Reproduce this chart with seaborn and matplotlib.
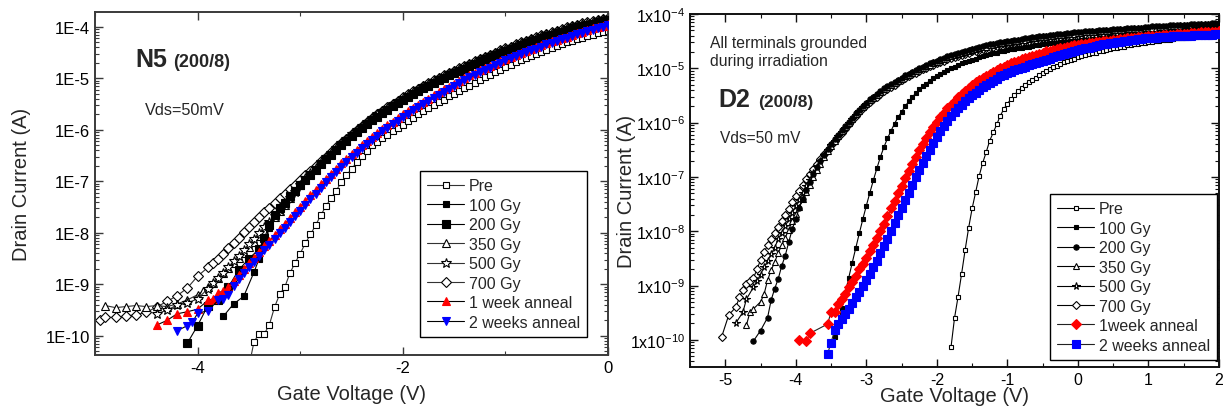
import numpy as np
import matplotlib
matplotlib.use("Agg")
import matplotlib.pyplot as plt
import seaborn as sns
from matplotlib.ticker import FixedLocator, LogLocator, MultipleLocator, FuncFormatter, NullFormatter

# ---------------- data: log10(drain current) on a 0.05 V gate sweep -------------
STEP = 0.05
LEGEND_L = ["Pre", "100 Gy", "200 Gy", "350 Gy", "500 Gy", "700 Gy", "1 week anneal", "2 weeks anneal"]
LEGEND_R = ["Pre", "100 Gy", "200 Gy", "350 Gy", "500 Gy", "700 Gy", "1week anneal", "2 weeks anneal"]

# ---- left panel: N5 (200/8) ----
L_PRE_V0 = -3.50
L_PRE = [-10.60, -10.11, -9.96, -9.96, -9.78, -9.44, -9.19, -9.05, -8.78, -8.58,
         -8.40, -8.20, -8.03, -7.85, -7.66, -7.48, -7.33, -7.18, -7.02, -6.88,
         -6.76, -6.63, -6.51, -6.40, -6.30, -6.23, -6.16, -6.09, -6.02, -5.96,
         -5.90, -5.83, -5.77, -5.70, -5.64, -5.58, -5.52, -5.46, -5.41, -5.35,
         -5.30, -5.24, -5.19, -5.14, -5.08, -5.03, -4.98, -4.93, -4.88, -4.83,
         -4.78, -4.74, -4.69, -4.65, -4.60, -4.56, -4.52, -4.48, -4.44, -4.41,
         -4.37, -4.34, -4.30, -4.27, -4.24, -4.21, -4.18, -4.15, -4.12, -4.10, -4.07]
L_100_V0 = -3.75
L_100 = [-9.62, None, -9.38, None, -9.23, None, -8.76, -8.50, -8.20, -7.90, -7.65,
         -7.50, -7.39, -7.27, -7.16, -7.05, -6.95, -6.85, -6.75, -6.65, -6.55,
         -6.46, -6.37, -6.28, -6.19, -6.10, -6.02, -5.94, -5.87, -5.79, -5.72,
         -5.65, -5.59, -5.52, -5.46, -5.40, -5.34, -5.28, -5.23, -5.17, -5.12,
         -5.07, -5.02, -4.97, -4.92, -4.88, -4.83, -4.79, -4.74, -4.70, -4.65,
         -4.61, -4.57, -4.53, -4.48, -4.44, -4.41, -4.37, -4.33, -4.30, -4.26,
         -4.23, -4.19, -4.16, -4.13, -4.10, -4.07, -4.04, -4.01, -3.99, -3.96,
         -3.94, -3.92, -3.89, -3.87, -3.85]
L_200_V0 = -4.10
L_200 = [-10.14, None, -9.80, None, -9.41, None, -9.31, None, -9.05, None,
         -8.72, None, -8.50, None, -8.31, -8.10, -7.85, -7.66,
         -7.52, -7.41, -7.29, -7.18, -7.07, -6.97, -6.87, -6.77, -6.67, -6.57,
         -6.48, -6.39, -6.30, -6.21, -6.12, -6.04, -5.96, -5.89, -5.81, -5.74,
         -5.67, -5.61, -5.54, -5.48, -5.42, -5.36, -5.30, -5.25, -5.19, -5.14,
         -5.09, -5.04, -4.99, -4.94, -4.90, -4.85, -4.81, -4.76, -4.72, -4.67,
         -4.63, -4.59, -4.55, -4.50, -4.46, -4.43, -4.39, -4.35, -4.32, -4.28,
         -4.25, -4.21, -4.18, -4.15, -4.12, -4.09, -4.06, -4.03, -4.01, -3.98,
         -3.96, -3.94, -3.91, -3.89, -3.87]
L_350_V0 = -4.90
L_350 = [-9.41, None, -9.45, None, -9.43, None, -9.41, None, -9.43, None,
         -9.41, None, -9.43, None, -9.38, None, -9.30, None,
         -9.20, -9.13, -9.05, -8.97, -8.88, -8.78, -8.68, -8.58, -8.48, -8.38,
         -8.28, -8.17, -8.06, -7.94, -7.82, -7.70, -7.58, -7.46, -7.33, -7.19,
         -7.06,
         -6.94, -6.84, -6.74, -6.64, -6.54, -6.45, -6.36, -6.27, -6.18, -6.09,
         -6.01, -5.93, -5.86, -5.78, -5.71, -5.64, -5.58, -5.51, -5.45, -5.39,
         -5.33, -5.27, -5.22, -5.16, -5.11, -5.06, -5.01, -4.96, -4.91, -4.87,
         -4.82, -4.78, -4.73, -4.69, -4.64, -4.60, -4.56, -4.52, -4.47, -4.43,
         -4.40, -4.36, -4.32, -4.29, -4.25, -4.22, -4.18, -4.15, -4.12, -4.09,
         -4.06, -4.03, -4.00, -3.98, -3.95, -3.93, -3.91, -3.88, -3.86, -3.84]
L_500_V0 = -4.40
L_500 = [-9.57, None, -9.50, None, -9.40, None, -9.36, None, -9.28, None,
         -9.08, -8.98, -8.88, -8.77, -8.66, -8.55, -8.44, -8.33, -8.22, -8.11,
         -8.00, -7.89, -7.78, -7.67, -7.56, -7.44, -7.32, -7.20, -7.07,
         -6.93, -6.83, -6.73, -6.63, -6.53, -6.44, -6.35, -6.26, -6.17, -6.08,
         -6.00, -5.92, -5.85, -5.77, -5.70, -5.63, -5.57, -5.50, -5.44, -5.38,
         -5.32, -5.26, -5.21, -5.15, -5.10, -5.05, -5.00, -4.95, -4.90, -4.86,
         -4.81, -4.77, -4.72, -4.68, -4.63, -4.59, -4.55, -4.51, -4.46, -4.42,
         -4.39, -4.35, -4.31, -4.28, -4.24, -4.21, -4.17, -4.14, -4.11, -4.08,
         -4.05, -4.02, -3.99, -3.97, -3.94, -3.92, -3.90, -3.87, -3.85, -3.83]
L_700_V0 = -4.95
L_700 = [-9.70, -9.64, None, -9.64, None, -9.61, None, -9.59, None, -9.54,
         None, -9.44, None, -9.33, None, -9.22, None, -9.07, None, -8.84,
         None, -8.67, -8.58, -8.50, -8.40, -8.30, -8.20, -8.10, -7.99, -7.89,
         -7.79, -7.70, -7.60, -7.51, -7.42, -7.33, -7.24, -7.15, -7.06, -6.97,
         -6.88, -6.79, -6.70, -6.61, -6.52, -6.43, -6.34, -6.25, -6.17, -6.08,
         -6.00, -5.92, -5.85, -5.77, -5.70, -5.63, -5.56, -5.49, -5.43, -5.37,
         -5.31, -5.25, -5.20, -5.14, -5.09, -5.04, -4.99, -4.94, -4.89, -4.85,
         -4.80, -4.76, -4.71, -4.67, -4.62, -4.58, -4.54, -4.50, -4.45, -4.41,
         -4.38, -4.34, -4.30, -4.27, -4.23, -4.20, -4.16, -4.13, -4.10, -4.07,
         -4.04, -4.01, -3.98, -3.96, -3.93, -3.91, -3.89, -3.86, -3.84, -3.82]
L_1W_V0 = -4.40
L_1W = [-9.79, None, -9.70, None, -9.57, None, -9.53, None, -9.48, None,
        -9.31, -9.28, -9.17, -9.12, -9.05, -8.93, -8.81, -8.70, -8.59, -8.48,
        -8.37, -8.26, -8.15, -8.04, -7.93, -7.82, -7.71, -7.60, -7.49, -7.38,
        -7.27, -7.16, -7.05, -6.95, -6.85, -6.75, -6.65, -6.56, -6.47, -6.38,
        -6.30, -6.21, -6.13, -6.05, -5.98, -5.91, -5.84, -5.77, -5.70, -5.64,
        -5.57, -5.51, -5.45, -5.39, -5.33, -5.27, -5.21, -5.16, -5.10, -5.05,
        -4.99, -4.94, -4.89, -4.84, -4.80, -4.75, -4.71, -4.66, -4.62, -4.58,
        -4.54, -4.50, -4.46, -4.42, -4.39, -4.35, -4.32, -4.28, -4.25, -4.22,
        -4.19, -4.15, -4.12, -4.09, -4.06, -4.03, -4.00, -3.98, -3.95]
L_2W_V0 = -4.20
L_2W = [-9.90, None, -9.80, -9.73, -9.56, None, -9.51, None, -9.31, -9.28,
        -9.20, -9.03, -8.89, -8.78, -8.67, -8.56, -8.45, -8.34, -8.23, -8.12,
        -8.01, -7.90, -7.79, -7.68, -7.57, -7.46, -7.35, -7.24, -7.13, -7.02,
        -6.92, -6.82, -6.72, -6.62, -6.53, -6.44, -6.36, -6.27, -6.19, -6.11,
        -6.03, -5.96, -5.89, -5.82, -5.75, -5.69, -5.62, -5.56, -5.50, -5.44,
        -5.38, -5.32, -5.26, -5.20, -5.15, -5.09, -5.04, -4.98, -4.93, -4.88,
        -4.84, -4.79, -4.74, -4.70, -4.65, -4.61, -4.57, -4.53, -4.49, -4.45,
        -4.42, -4.38, -4.34, -4.31, -4.28, -4.24, -4.21, -4.18, -4.14, -4.11,
        -4.08, -4.05, -4.02, -4.00, -3.97]

# ---- right panel: D2 (200/8) ----
R_PRE_V0 = -1.80
R_PRE = [-10.14, -9.60, -9.21, -8.79, -8.35, -7.94, -7.58, -7.28, -6.98, -6.74,
         -6.54, -6.33, -6.18, -6.03, -5.87, -5.75, -5.65, -5.57, -5.49, -5.42,
         -5.36, -5.30, -5.25, -5.21, -5.17, -5.13, -5.09, -5.05, -5.01, -4.98,
         -4.95, -4.92, -4.89, -4.87, -4.84, -4.82, -4.80, -4.78, -4.76, -4.74,
         -4.72, -4.71, -4.69, -4.68, -4.66, -4.65, -4.63, -4.62, -4.61, -4.60,
         -4.58, -4.57, -4.56, -4.55, -4.54, -4.53, -4.52, -4.51, -4.50, -4.49,
         -4.48, -4.48, -4.47, -4.46, -4.45, -4.45, -4.44, -4.43, -4.42, -4.42,
         -4.41, -4.40, -4.40, -4.39, -4.39, -4.38, -4.38]
R_100_V0 = -3.45
R_100 = [-9.95, -9.72, -9.42, -9.14, -8.86, -8.58, -8.31, -8.04, -7.78, -7.53,
         -7.29, -7.06, -6.84, -6.63, -6.45, -6.29, -6.15, -6.02, -5.90, -5.80,
         -5.70, -5.61, -5.53, -5.46, -5.39, -5.33, -5.28, -5.23, -5.18, -5.14,
         -5.10, -5.06, -5.03, -5.00, -4.97, -4.94, -4.91, -4.89, -4.86, -4.84,
         -4.82, -4.80, -4.78, -4.76, -4.74, -4.72, -4.71, -4.69, -4.68, -4.66,
         -4.65, -4.64, -4.63, -4.62, -4.61, -4.60, -4.59, -4.58, -4.57, -4.56,
         -4.55, -4.54, -4.54, -4.53, -4.52, -4.52, -4.51, -4.50, -4.50, -4.49,
         -4.48, -4.48, -4.47, -4.46, -4.46, -4.45, -4.44, -4.44, -4.43, -4.42,
         -4.42, -4.41, -4.40, -4.40, -4.39, -4.38, -4.38, -4.37, -4.37, -4.36,
         -4.35, -4.35, -4.34, -4.34, -4.33, -4.32, -4.32, -4.31, -4.31, -4.30,
         -4.29, -4.29, -4.28, -4.28, -4.27, -4.26, -4.26, -4.25, -4.25, -4.24]
R_200_V0 = -4.60
R_200 = [-10.02, None, -9.83, None, -9.59, -9.27, -9.06, -8.88, -8.64, -8.45,
         -8.20, -7.96, -7.77, -7.57, -7.40, -7.24, -7.09, -6.95, -6.82, -6.70,
         -6.59, -6.49, -6.40, -6.31,
         -6.22, -6.14, -6.06, -5.98, -5.91, -5.83, -5.76, -5.69, -5.63, -5.57,
         -5.52, -5.47, -5.42, -5.37, -5.33, -5.29, -5.25, -5.21, -5.17, -5.13,
         -5.10, -5.06, -5.03, -5.00, -4.97, -4.94, -4.91, -4.88, -4.86, -4.83,
         -4.81, -4.78, -4.76, -4.74, -4.72, -4.70, -4.68, -4.66, -4.64, -4.63,
         -4.61, -4.59, -4.58, -4.56, -4.55, -4.54, -4.52, -4.51, -4.50, -4.49,
         -4.48, -4.47, -4.46, -4.45, -4.44, -4.43, -4.42, -4.41, -4.40, -4.40,
         -4.39, -4.38, -4.37, -4.37, -4.36, -4.35, -4.35, -4.34, -4.33, -4.33,
         -4.32, -4.32, -4.31, -4.31, -4.30, -4.30, -4.29, -4.29, -4.28, -4.28,
         -4.27, -4.27, -4.26, -4.26, -4.25, -4.25, -4.25, -4.24, -4.24, -4.23,
         -4.23, -4.23, -4.22, -4.22, -4.21, -4.21, -4.21, -4.20, -4.20, -4.20,
         -4.19, -4.19, -4.19, -4.18, -4.18, -4.18, -4.17, -4.17, -4.17]
R_350_V0 = -4.70
R_350 = [-9.73, -9.49, -9.43, None, -9.30, -9.16, -8.90, -8.72, -8.57, -8.40,
         -8.26, -8.12, -7.97, -7.82, -7.68, -7.55, -7.41, -7.28, -7.15, -7.01,
         -6.88, -6.76, -6.64, -6.53, -6.43, -6.33,
         -6.24, -6.16, -6.08, -6.00, -5.93, -5.85, -5.78, -5.71, -5.65, -5.59,
         -5.54, -5.49, -5.44, -5.39, -5.35, -5.31, -5.27, -5.23, -5.19, -5.15,
         -5.12, -5.08, -5.05, -5.02, -4.99, -4.96, -4.93, -4.90, -4.88, -4.85,
         -4.83, -4.80, -4.78, -4.76, -4.74, -4.72, -4.70, -4.68, -4.66, -4.65,
         -4.63, -4.61, -4.60, -4.58, -4.57, -4.56, -4.54, -4.53, -4.52, -4.51,
         -4.50, -4.49, -4.48, -4.47, -4.46, -4.45, -4.44, -4.43, -4.42, -4.42,
         -4.41, -4.40, -4.39, -4.39, -4.38, -4.37, -4.37, -4.36, -4.35, -4.35,
         -4.34, -4.34, -4.33, -4.33, -4.32, -4.32, -4.31, -4.31, -4.30, -4.30,
         -4.29, -4.29, -4.28, -4.28, -4.27, -4.27, -4.27, -4.26, -4.26, -4.25,
         -4.25, -4.25, -4.24, -4.24, -4.23, -4.23, -4.23, -4.22, -4.22, -4.22,
         -4.21, -4.21, -4.21, -4.20, -4.20, -4.20, -4.19, -4.19, -4.19]
R_500_V0 = -4.85
R_500 = [-9.69, None, -9.49, -9.25, None, -9.03, -8.91, -8.80, -8.66, -8.55,
         -8.42, -8.30, -8.15, -8.03, -7.91, -7.78, -7.66, -7.54, -7.42, -7.29,
         -7.17, -7.05, -6.93, -6.81, -6.70, -6.60, -6.50, -6.42, -6.33,
         -6.25, -6.17, -6.09, -6.01, -5.94, -5.86, -5.79, -5.72, -5.66, -5.60,
         -5.55, -5.50, -5.45, -5.40, -5.36, -5.32, -5.28, -5.24, -5.20, -5.16,
         -5.13, -5.09, -5.06, -5.03, -5.00, -4.97, -4.94, -4.91, -4.89, -4.86,
         -4.84, -4.81, -4.79, -4.77, -4.75, -4.73, -4.71, -4.69, -4.67, -4.66,
         -4.64, -4.62, -4.61, -4.59, -4.58, -4.57, -4.55, -4.54, -4.53, -4.52,
         -4.51, -4.50, -4.49, -4.48, -4.47, -4.46, -4.45, -4.44, -4.43, -4.43,
         -4.42, -4.41, -4.40, -4.40, -4.39, -4.38, -4.38, -4.37, -4.36, -4.36,
         -4.35, -4.35, -4.34, -4.34, -4.33, -4.33, -4.32, -4.32, -4.31, -4.31,
         -4.30, -4.30, -4.29, -4.29, -4.28, -4.28, -4.28, -4.27, -4.27, -4.26,
         -4.26, -4.26, -4.25, -4.25, -4.24, -4.24, -4.24, -4.23, -4.23, -4.23,
         -4.22, -4.22, -4.22, -4.21, -4.21, -4.21, -4.20, -4.20, -4.20]
R_700_V0 = -5.05
R_700 = [-9.94, None, -9.54, None, -9.40, -9.22, -9.08, -8.98, -8.92, -8.86,
         -8.70, -8.53, -8.39, -8.26, -8.15, -8.03, -7.92, -7.81, -7.70, -7.59,
         -7.47, -7.36, -7.25, -7.14, -7.04, -6.94, -6.85, -6.76, -6.67, -6.58,
         -6.50, -6.42, -6.34,
         -6.27, -6.19, -6.11, -6.03, -5.96, -5.88, -5.81, -5.74, -5.68, -5.62,
         -5.57, -5.52, -5.47, -5.42, -5.38, -5.34, -5.30, -5.26, -5.22, -5.18,
         -5.15, -5.11, -5.08, -5.05, -5.02, -4.99, -4.96, -4.93, -4.91, -4.88,
         -4.86, -4.83, -4.81, -4.79, -4.77, -4.75, -4.73, -4.71, -4.69, -4.68,
         -4.66, -4.64, -4.63, -4.61, -4.60, -4.59, -4.57, -4.56, -4.55, -4.54,
         -4.53, -4.52, -4.51, -4.50, -4.49, -4.48, -4.47, -4.46, -4.45, -4.45,
         -4.44, -4.43, -4.42, -4.42, -4.41, -4.40, -4.40, -4.39, -4.38, -4.38,
         -4.37, -4.37, -4.36, -4.36, -4.35, -4.35, -4.34, -4.34, -4.33, -4.33,
         -4.32, -4.32, -4.31, -4.31, -4.30, -4.30, -4.30, -4.29, -4.29, -4.28,
         -4.28, -4.28, -4.27, -4.27, -4.26, -4.26, -4.26, -4.25, -4.25, -4.25,
         -4.24, -4.24, -4.24, -4.23, -4.23, -4.23, -4.22, -4.22, -4.22]
R_1W_V0 = -3.95
R_1W = [-10.00, None, -10.02, -9.88, None, None, None, None, -9.71, -9.49,
        -9.48, -9.34, -9.25, -9.16, -9.03, -8.93, -8.82, -8.70, -8.60, -8.49,
        -8.37, -8.25, -8.12, -7.99, -7.86, -7.72, -7.58, -7.44, -7.30, -7.16,
        -7.02, -6.89, -6.76, -6.63, -6.51, -6.39, -6.28, -6.18, -6.08, -5.99,
        -5.90, -5.82, -5.74, -5.67, -5.60, -5.53, -5.47, -5.41, -5.36, -5.31,
        -5.26, -5.22, -5.18, -5.14, -5.10, -5.06, -5.03, -5.00, -4.97, -4.94,
        -4.91, -4.88, -4.86, -4.83, -4.81, -4.79, -4.77, -4.75, -4.73, -4.71,
        -4.69, -4.68, -4.66, -4.65, -4.63, -4.62, -4.61, -4.59, -4.58, -4.57,
        -4.56, -4.55, -4.54, -4.53, -4.52, -4.51, -4.50, -4.49, -4.49, -4.48,
        -4.47, -4.46, -4.46, -4.45, -4.44, -4.44, -4.43, -4.42, -4.42, -4.41,
        -4.41, -4.40, -4.40, -4.39, -4.39, -4.38, -4.38, -4.37, -4.37, -4.36,
        -4.36, -4.35, -4.35, -4.35, -4.34, -4.34, -4.33, -4.33, -4.33, -4.32]
R_2W_V0 = -3.55
R_2W = [-10.26, -10.05, -9.82, -9.70, -9.61, -9.53, -9.43, -9.32, -9.22, -9.12,
        -9.01, -8.90, -8.78, -8.66, -8.54, -8.41, -8.28, -8.15, -8.00, -7.85,
        -7.71, -7.57, -7.43, -7.29, -7.15, -7.01, -6.88, -6.75, -6.62, -6.50,
        -6.38, -6.27, -6.16, -6.06, -5.97, -5.88, -5.80, -5.73, -5.67, -5.61,
        -5.55, -5.50, -5.45, -5.40, -5.35, -5.31, -5.27, -5.23, -5.19, -5.15,
        -5.12, -5.09, -5.06, -5.03, -5.01, -4.99, -4.97, -4.94, -4.92, -4.90,
        -4.88, -4.86, -4.84, -4.82, -4.80, -4.78, -4.76, -4.74, -4.72, -4.70,
        -4.68, -4.66, -4.65, -4.63, -4.62, -4.60, -4.59, -4.58, -4.56, -4.55,
        -4.54, -4.53, -4.52, -4.51, -4.50, -4.49, -4.48, -4.47, -4.46, -4.46,
        -4.45, -4.45, -4.44, -4.44, -4.43, -4.43, -4.42, -4.42, -4.41, -4.41,
        -4.41, -4.40, -4.40, -4.40, -4.39, -4.39, -4.39, -4.38, -4.38, -4.38,
        -4.37, -4.37]

L_YTICK_EXP = [-10, -9, -8, -7, -6, -5, -4]
R_YTICK_EXP = [-10, -9, -8, -7, -6, -5, -4]

# ---------------- style ----------------
sns.set_style("ticks")
plt.rcParams["font.family"] = ["Liberation Sans", "DejaVu Sans"]
plt.rcParams["axes.unicode_minus"] = False
plt.rcParams["mathtext.fontset"] = "custom"
plt.rcParams["mathtext.rm"] = "Liberation Sans"
plt.rcParams["mathtext.it"] = "Liberation Sans:italic"
plt.rcParams["mathtext.bf"] = "Liberation Sans:bold"

fig = plt.figure(figsize=(12.26, 4.14), dpi=100)
axL = fig.add_axes([95 / 1226, 1 - 356 / 414, 513 / 1226, 343 / 414])
axR = fig.add_axes([690 / 1226, 1 - 368 / 414, 529 / 1226, 353 / 414])
for ax in (axL, axR):
    ax.set_yscale("log")


def xy(v0, logs):
    v = v0 + STEP * np.arange(len(logs))
    y = np.array([np.nan if a is None else a for a in logs], dtype=float)
    keep = ~np.isnan(y)
    return np.round(v[keep], 3), 10.0 ** y[keep]


def draw(ax, v0, logs, label, marker, ms, fc, ec, lc="black", lw=0.8, mew=0.8, z=2):
    x, y = xy(v0, logs)
    sns.lineplot(x=x, y=y, ax=ax, label=label, color=lc, linewidth=lw,
                 marker=marker, markersize=ms, markerfacecolor=fc,
                 markeredgecolor=ec, markeredgewidth=mew, zorder=z,
                 estimator=None, sort=False, legend=False)


RED, BLUE = "#ff0000", "#0000ff"

# left panel series
draw(axL, L_PRE_V0, L_PRE, LEGEND_L[0], "s", 3.8, "white", "black", lc="#333333", z=2.0)
draw(axL, L_100_V0, L_100, LEGEND_L[1], "s", 3.8, "black", "black", z=2.6)
draw(axL, L_200_V0, L_200, LEGEND_L[2], "s", 6.0, "black", "black", z=2.5)
draw(axL, L_350_V0, L_350, LEGEND_L[3], "^", 5.5, "white", "black", lc="#333333", z=2.2)
draw(axL, L_500_V0, L_500, LEGEND_L[4], "*", 7.0, "white", "black", lc="#333333", z=2.3)
draw(axL, L_700_V0, L_700, LEGEND_L[5], "D", 4.6, "white", "black", lc="#333333", z=2.1)
draw(axL, L_1W_V0, L_1W, LEGEND_L[6], "^", 6.0, RED, RED, z=3.0)
draw(axL, L_2W_V0, L_2W, LEGEND_L[7], "v", 6.0, BLUE, BLUE, z=3.1)

# right panel series
draw(axR, R_PRE_V0, R_PRE, LEGEND_R[0], "s", 3.4, "white", "black", z=2.0)
draw(axR, R_100_V0, R_100, LEGEND_R[1], "s", 3.4, "black", "black", z=2.5)
draw(axR, R_200_V0, R_200, LEGEND_R[2], "o", 3.8, "black", "black", z=2.6)
draw(axR, R_350_V0, R_350, LEGEND_R[3], "^", 4.4, "white", "black", z=2.3)
draw(axR, R_500_V0, R_500, LEGEND_R[4], "*", 5.5, "white", "black", z=2.2)
draw(axR, R_700_V0, R_700, LEGEND_R[5], "D", 3.6, "white", "black", z=2.1)
draw(axR, R_1W_V0, R_1W, LEGEND_R[6], "D", 4.8, RED, RED, lc="#222222", z=3.0)
draw(axR, R_2W_V0, R_2W, LEGEND_R[7], "s", 6.0, BLUE, BLUE, lc="#222222", z=3.1)

# ---------------- axes ----------------
axL.set_xlim(-5, 0)
axL.set_ylim(10 ** -10.37, 10 ** -3.71)
axR.set_xlim(-5.5, 2)
axR.set_ylim(10 ** -10.50, 10 ** -4.0)

axL.xaxis.set_major_locator(FixedLocator([-4, -2, 0]))
axL.xaxis.set_minor_locator(FixedLocator([-5, -3, -1]))
axL.xaxis.set_major_formatter(FuncFormatter(lambda v, p: f"{v:.0f}"))
axL.yaxis.set_major_locator(FixedLocator([10.0 ** e for e in L_YTICK_EXP]))
axL.yaxis.set_major_formatter(FuncFormatter(
    lambda v, p: f"1E{int(round(np.log10(v)))}"))

axR.xaxis.set_major_locator(MultipleLocator(1))
axR.xaxis.set_minor_locator(MultipleLocator(0.5))
axR.xaxis.set_major_formatter(FuncFormatter(lambda v, p: f"{v:.0f}"))
axR.yaxis.set_major_locator(FixedLocator([10.0 ** e for e in R_YTICK_EXP]))
axR.yaxis.set_major_formatter(FuncFormatter(
    lambda v, p: "1x10$^{" + str(int(round(np.log10(v)))) + "}$"))

for ax, spc, lsz in ((axL, "#3a3a3a", 12), (axR, "#111111", 11.5)):
    ax.yaxis.set_minor_locator(LogLocator(base=10, subs=np.arange(2, 10), numticks=30))
    ax.yaxis.set_minor_formatter(NullFormatter())
    ax.tick_params(which="both", direction="in", top=True, right=True,
                   labelsize=lsz, colors=spc, labelcolor="black")
    ax.tick_params(which="major", length=6, width=1.0)
    ax.tick_params(which="minor", length=3, width=0.8)
    for s in ax.spines.values():
        s.set_color(spc)
        s.set_linewidth(1.4)
    ax.set_facecolor("white")

axL.set_xlabel("Gate Voltage (V)", fontsize=14.5)
axL.set_ylabel("Drain Current (A)", fontsize=14.5)
axR.set_xlabel("Gate Voltage (V)", fontsize=14.5)
axR.set_ylabel("Drain Current (A)", fontsize=14.5)
axL.xaxis.set_label_coords(0.5, -0.085)
axL.yaxis.set_label_coords(-0.125, 0.5)
axR.xaxis.set_label_coords(0.5, -0.055)
axR.yaxis.set_label_coords(-0.103, 0.5)

# annotations
axL.text(0.078, 0.843, "N5", transform=axL.transAxes, fontsize=18, fontweight="bold")
axL.text(0.152, 0.843, "(200/8)", transform=axL.transAxes, fontsize=13, fontweight="bold")
axL.text(0.097, 0.703, "Vds=50mV", transform=axL.transAxes, fontsize=11.7)

axR.text(0.038, 0.907, "All terminals grounded", transform=axR.transAxes, fontsize=11.3)
axR.text(0.038, 0.856, "during irradiation", transform=axR.transAxes, fontsize=11.3)
axR.text(0.053, 0.739, "D2", transform=axR.transAxes, fontsize=18, fontweight="bold")
axR.text(0.1285, 0.739, "(200/8)", transform=axR.transAxes, fontsize=12.5, fontweight="bold")
axR.text(0.057, 0.637, "Vds=50 mV", transform=axR.transAxes, fontsize=11.2)

# legends
for ax, anchor in ((axL, (0.6335, 0.5364)), (axR, (0.6805, 0.490))):
    h, l = ax.get_legend_handles_labels()
    leg = ax.legend(h, l, loc="upper left", bbox_to_anchor=anchor, borderaxespad=0,
                    fontsize=11.5, frameon=True, fancybox=False, framealpha=1,
                    edgecolor="black", labelspacing=0.28, handlelength=2.3,
                    handletextpad=0.3, borderpad=0.45, numpoints=1)
    leg.get_frame().set_linewidth(1.0)
    leg.set_zorder(10)

fig.savefig("out.png", dpi=100, facecolor="white")
